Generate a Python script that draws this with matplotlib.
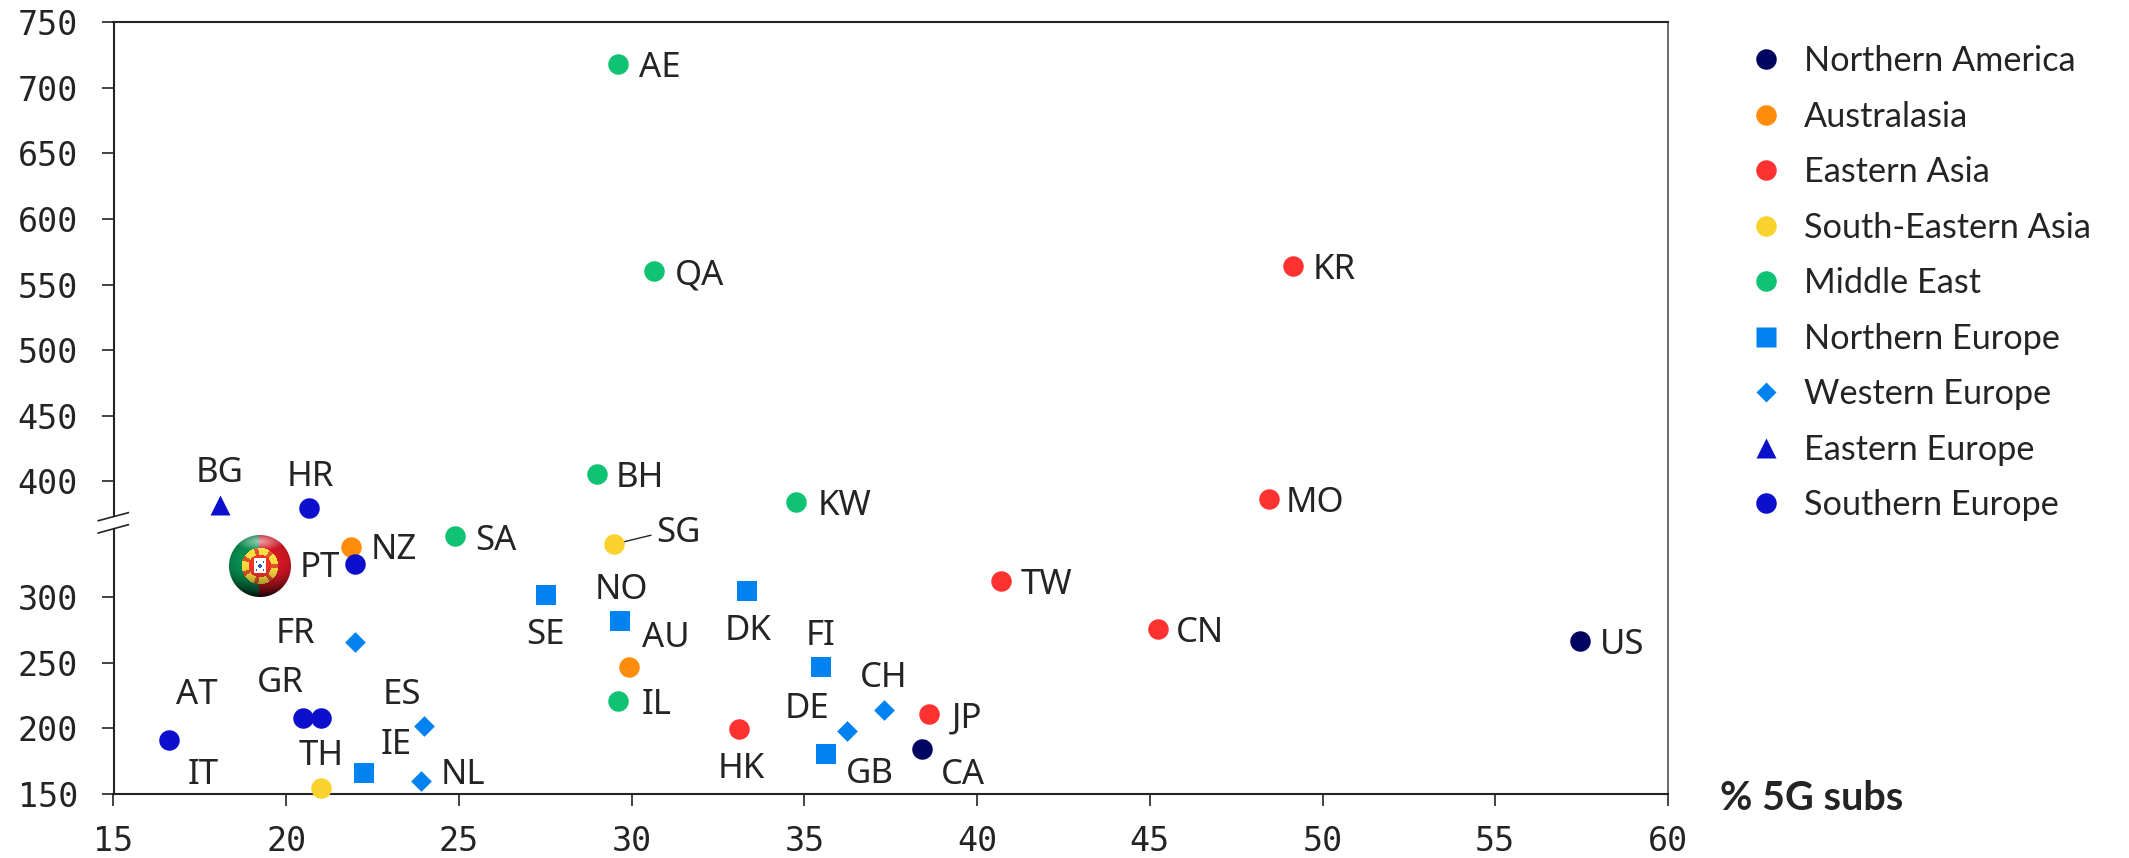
import numpy as np
import matplotlib
matplotlib.use("Agg")
import matplotlib.pyplot as plt
from matplotlib.lines import Line2D
from matplotlib.offsetbox import OffsetImage, AnnotationBbox

# datos por region: pais, % 5G subs, valor
na_names = ['US', 'CA']
na_x = [57.46, 38.40]
na_y = [266.6, 184.5]

aa_names = ['NZ', 'AU']
aa_x = [21.87, 29.93]
aa_y = [338.6, 247.0]

ea_names = ['KR', 'MO', 'TW', 'CN', 'JP', 'HK']
ea_x = [49.13, 48.46, 40.68, 45.24, 38.62, 33.10]
ea_y = [564.0, 387.0, 312.0, 276.0, 210.9, 199.7]

se_asia_names = ['SG', 'TH']
se_asia_x = [29.49, 21.01]
se_asia_y = [340.4, 154.8]

me_names = ['AE', 'QA', 'BH', 'KW', 'SA', 'IL']
me_x = [29.60, 30.66, 29.00, 34.75, 24.90, 29.60]
me_y = [718.5, 560.5, 405.6, 384.0, 346.5, 220.6]

ne_names = ['SE', 'NO', 'DK', 'FI', 'GB', 'IE']
ne_x = [27.51, 29.66, 33.34, 35.47, 35.64, 22.24]
ne_y = [301.3, 282.0, 304.8, 246.7, 180.7, 166.2]

we_names = ['FR', 'AT', 'NL', 'CH', 'DE']
we_x = [22.00, 24.00, 23.90, 37.31, 36.24]
we_y = [265.5, 201.8, 160.1, 214.2, 197.7]

ee_names = ['BG']
ee_x = [18.07]
ee_y = [382.0]

so_names = ['HR', 'PT', 'IT', 'GR', 'ES']
so_x = [20.66, 22.00, 16.60, 20.49, 21.00]
so_y = [379.5, 325.0, 190.9, 207.6, 207.6]

flag_x = 19.25
flag_y = 323.9

x_ticks = [15, 20, 25, 30, 35, 40, 45, 50, 55, 60]
y_ticks = [150, 200, 250, 300, 400, 450, 500, 550, 600, 650, 700, 750]

# desplazamiento de cada etiqueta respecto al punto, en pixeles
label_off = {
    'US': (42, 0), 'CA': (41, 22), 'NZ': (43, -1), 'AU': (37, -33),
    'KR': (42, 0), 'MO': (46, 0), 'TW': (46, 0), 'CN': (42, 0), 'JP': (38, 0), 'HK': (2, 36),
    'SG': (64, -15), 'TH': (0, -36),
    'AE': (42, 0), 'QA': (45, 1), 'BH': (43, 0), 'KW': (49, 0), 'SA': (40, 1), 'IL': (39, 0),
    'SE': (0, 36), 'NO': (1, -35), 'DK': (1, 36), 'FI': (0, -35), 'GB': (43, 16), 'IE': (33, -32),
    'FR': (-60, -12), 'AT': (-228, -35), 'NL': (42, -10), 'CH': (0, -36), 'DE': (-40, -26),
    'BG': (0, -36),
    'HR': (1, -35), 'PT': (-35, 0), 'IT': (34, 31), 'GR': (-23, -39), 'ES': (81, -27),
}

NAVY = '#00065F'
ORANGE = '#FF8C0A'
RED = '#FF3232'
YELLOW = '#FAD22D'
GREEN = '#0FC373'
BLUE = '#0082F0'
DBLUE = '#0C10CC'
TEXT = '#242424'

S_MARK = 218
S_DIAM = 111

grupos = [
    ('Northern America', na_names, na_x, na_y, NAVY, 'o', S_MARK),
    ('Australasia', aa_names, aa_x, aa_y, ORANGE, 'o', S_MARK),
    ('Eastern Asia', ea_names, ea_x, ea_y, RED, 'o', S_MARK),
    ('South-Eastern Asia', se_asia_names, se_asia_x, se_asia_y, YELLOW, 'o', S_MARK),
    ('Middle East', me_names, me_x, me_y, GREEN, 'o', S_MARK),
    ('Northern Europe', ne_names, ne_x, ne_y, BLUE, 's', S_MARK),
    ('Western Europe', we_names, we_x, we_y, BLUE, 'D', S_DIAM),
    ('Eastern Europe', ee_names, ee_x, ee_y, DBLUE, '^', 207),
    ('Southern Europe', so_names, so_x, so_y, DBLUE, 'o', S_MARK),
]

W, H = 2129, 858
L, R, T, B = 113.5, 1668, 22.3, 794


# eje y con un salto entre 352 y 373.5
def y_fwd(v):
    v = np.asarray(v, dtype=float)
    return np.where(v <= 352, v, np.where(v >= 373.5, v - 11.8, 352 + (v - 352) * 9.7 / 21.5))


def y_inv(v):
    v = np.asarray(v, dtype=float)
    return np.where(v <= 352, v, np.where(v >= 361.7, v + 11.8, 352 + (v - 352) * 21.5 / 9.7))


# bola con la bandera de Portugal
def bandera(n=64):
    u, v = np.meshgrid(np.linspace(-1, 1, n), np.linspace(-1, 1, n))
    r = np.hypot(u, v)
    img = np.zeros((n, n, 4))
    img[..., :3] = np.array([0.75, 0.08, 0.13])
    img[u < -0.04, :3] = np.array([0.03, 0.50, 0.28])
    img[r < 0.58, :3] = np.array([0.88, 0.78, 0.22])
    img[(r < 0.58) & (np.cos(np.arctan2(v, u) * 7) > 0.6), :3] = np.array([0.78, 0.30, 0.15])
    img[r < 0.36, :3] = np.array([0.85, 0.18, 0.15])
    img[(np.abs(u) < 0.2) & (np.abs(v + 0.02) < 0.24), :3] = np.array([0.96, 0.96, 0.96])
    puntos = (np.abs(u) < 0.14) & (np.abs(v) < 0.16) & (np.cos(u * 22) * np.cos(v * 22) > 0.35)
    img[puntos, :3] = np.array([0.15, 0.35, 0.65])
    luz = 1.12 - 0.62 * np.clip(v + 0.2, 0, 1.2) ** 2 - 0.2 * r ** 6
    img[..., :3] = img[..., :3] * luz[..., None]
    brillo = np.clip(1 - np.hypot(u / 0.8, (v + 0.78) / 0.3), 0, 1) * 0.6
    img[..., :3] = img[..., :3] + (1 - img[..., :3]) * brillo[..., None]
    img[..., :3] = np.clip(img[..., :3], 0, 1)
    img[..., 3] = np.clip((1 - r) * n / 2, 0, 1)
    return img


fig = plt.figure(figsize=(W / 100, H / 100), dpi=100)
ax = fig.add_axes([L / W, 1 - B / H, (R - L) / W, (B - T) / H])
ax.set_yscale('function', functions=(y_fwd, y_inv))
ax.set_xlim(15, 60)
ax.set_ylim(150, 750)
ax.set_xticks(x_ticks)
ax.set_yticks(y_ticks)
ax.minorticks_off()
ax.tick_params(axis='x', length=8.5, width=1.2, pad=14, color=TEXT, labelcolor=TEXT)
ax.tick_params(axis='y', length=8.5, width=1.2, pad=17, color=TEXT, labelcolor=TEXT)
for lab in ax.get_xticklabels() + ax.get_yticklabels():
    lab.set_fontfamily('DejaVu Sans Mono')
    lab.set_fontsize(24)
for s in ['left', 'bottom', 'top']:
    ax.spines[s].set_linewidth(1.5)
    ax.spines[s].set_color(TEXT)
ax.spines['right'].set_linewidth(1.1)
ax.spines['right'].set_color('#444444')

handles = []
for nombre, names, xs, ys, color, marker, size in grupos:
    ax.scatter(xs, ys, s=size, c=color, marker=marker, linewidths=0, zorder=3, clip_on=False)
    handles.append(Line2D([], [], ls='none', marker=marker, color=color, mec='none',
                          ms=np.sqrt(size), label=nombre))
    for name, x, y in zip(names, xs, ys):
        dx, dy = label_off[name]
        ax.annotate(name, (x, y), xytext=(dx * 0.72, -dy * 0.72), textcoords='offset points',
                    ha='center', va='center_baseline', fontsize=25, color=TEXT,
                    family='Noto Sans', zorder=4)

# linea de SG a su etiqueta
ax.annotate('', (se_asia_x[0], se_asia_y[0]), xytext=(37 * 0.72, 9 * 0.72), textcoords='offset points',
            arrowprops=dict(arrowstyle='-', color=TEXT, lw=1, shrinkA=0, shrinkB=7), zorder=2)

ab = AnnotationBbox(OffsetImage(bandera(64), zoom=0.72), (flag_x, flag_y), frameon=False,
                    pad=0, zorder=5)
ax.add_artist(ab)


# marca del salto en el eje y
def fx(px):
    return (px - L) / (R - L)


def fy(py):
    return (B - py) / (B - T)


ax.add_patch(plt.Rectangle((fx(105), fy(529)), fx(122) - fx(105), fy(516) - fy(529), transform=ax.transAxes,
                           color='white', lw=0, clip_on=False, zorder=6))
for y0, y1 in [(520.7, 512.7), (533, 524.7)]:
    ax.add_line(Line2D([fx(98.3), fx(128.3)], [fy(y0), fy(y1)], transform=ax.transAxes, color=TEXT,
                       lw=1.2, clip_on=False, zorder=7))

fig.legend(handles=handles, loc='upper left', bbox_to_anchor=(1749 / W, 1 - 45.4 / H), frameon=False,
           prop={'family': 'Lato', 'size': 24.7}, labelcolor=TEXT, labelspacing=0.685,
           handletextpad=0.6, handlelength=1.0, borderpad=0, borderaxespad=0)

fig.text(1720 / W, 1 - 798 / H, '% 5G subs', fontsize=28.5, fontweight='bold', family='Lato',
         color=TEXT, va='center', ha='left')

fig.savefig('out.png', dpi=100)
